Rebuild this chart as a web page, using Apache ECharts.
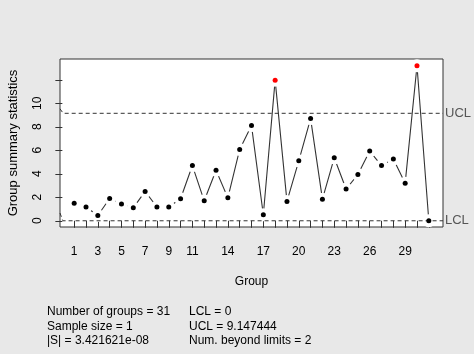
<!DOCTYPE html>
<html>
<head>
<meta charset="utf-8">
<script src="https://cdn.jsdelivr.net/npm/echarts@6/dist/echarts.min.js"></script>
<style>
  html, body { margin: 0; padding: 0; background: #e8e8e8; }
  #chart { width: 474px; height: 354px; }
</style>
</head>
<body>
<div id="chart"></div>
<script>
// group statistics
const groups = [];
for (let i = 1; i <= 31; i++) groups.push(i);
const stats = [1.5, 1.17, 0.45, 1.9, 1.42, 1.1, 2.5, 1.17, 1.17, 1.87,
  4.7, 1.7, 4.3, 1.95, 6.07, 8.1, 0.51, 11.97, 1.65, 5.1,
  8.7, 1.84, 5.36, 2.7, 3.94, 5.93, 4.7, 5.25, 3.2, 13.19, 0];

const ucl = 9.147444;
const lcl = 0;
// limit lines (start just left of group 1, clipped by the box)
const uclX = [-0.2, 0.07, 32.2];
const uclY = [9.53, ucl, ucl];
const lclX = [-0.2, 0.04, 32.2];
const lclY = [0.66, lcl, lcl];

const xTicks = groups;
const xLabels = [1, 3, 5, 7, 9, 11, 14, 17, 20, 23, 26, 29];
const yTicks = [0, 2, 4, 6, 8, 10, 12];
const yLabels = [0, 2, 4, 6, 8, 10];

const summaryLeft = ["Number of groups = 31", "Sample size = 1", "|S| = 3.421621e-08"];
const summaryRight = ["LCL = 0", "UCL = 9.147444", "Num. beyond limits = 2"];

const font = "Liberation Sans";
const chart = echarts.init(document.getElementById("chart"));

const pts = groups.map((g, i) => [g, stats[i]]);

const graphics = [];
summaryLeft.forEach((t, i) => {
  graphics.push({ type: "text", left: 47, top: 306 + i * 14.4,
    style: { text: t, font: "12px " + font, fill: "#000" } });
});
summaryRight.forEach((t, i) => {
  graphics.push({ type: "text", left: 189, top: 306 + i * 14.4,
    style: { text: t, font: "12px " + font, fill: "#000" } });
});

chart.setOption({
  backgroundColor: "#e8e8e8",
  animation: false,
  textStyle: { fontFamily: font },
  grid: {
    left: 60, right: 31, top: 59, bottom: 127,
    outerBoundsMode: "none", containLabel: false,
    show: true, backgroundColor: "#fff", borderColor: "#333", borderWidth: 1
  },
  xAxis: {
    type: "value", min: -0.2, max: 32.2,
    name: "Group", nameLocation: "middle", nameGap: 49,
    nameTextStyle: { fontSize: 12, color: "#000", fontFamily: font },
    splitLine: { show: false },
    axisLine: { show: false },
    axisTick: { show: true, length: 7, customValues: xTicks, lineStyle: { color: "#333" } },
    axisLabel: { customValues: xLabels, fontSize: 12, color: "#000", margin: 19 }
  },
  yAxis: {
    type: "value", min: -0.53, max: 13.77,
    name: "Group summary statistics", nameLocation: "middle", nameGap: 40, nameRotate: 90,
    nameTextStyle: { fontSize: 13, color: "#000", fontFamily: font },
    splitLine: { show: false },
    axisLine: { show: false },
    axisTick: { show: true, length: 7, customValues: yTicks, lineStyle: { color: "#333" } },
    axisLabel: { customValues: yLabels, fontSize: 12, color: "#000", rotate: 90, margin: 16 }
  },
  graphic: graphics,
  series: [
    {
      type: "line", data: pts, z: 2,
      symbol: "circle", symbolSize: 13,
      itemStyle: { color: "#fff", borderWidth: 0 },
      lineStyle: { color: "#333", width: 1.1 },
      emphasis: { disabled: true }
    },
    {
      type: "line", name: "UCL", z: 3, showSymbol: false,
      data: uclX.map((x, i) => [x, uclY[i]]),
      lineStyle: { color: "#333", width: 1, type: [4, 3] },
      endLabel: { show: true, formatter: "UCL", color: "#555", fontSize: 13, distance: 2 }
    },
    {
      type: "line", name: "LCL", z: 3, showSymbol: false,
      data: lclX.map((x, i) => [x, lclY[i]]),
      lineStyle: { color: "#333", width: 1, type: [4, 3] },
      endLabel: { show: true, formatter: "LCL", color: "#555", fontSize: 13, distance: 2 }
    },
    {
      type: "scatter", data: pts, z: 4,
      symbol: "circle", symbolSize: 5,
      itemStyle: {
        color: p => (p.value[1] > ucl || p.value[1] < lcl) ? "#ff0000" : "#000",
        opacity: 1
      }
    }
  ]
});
</script>
</body>
</html>
